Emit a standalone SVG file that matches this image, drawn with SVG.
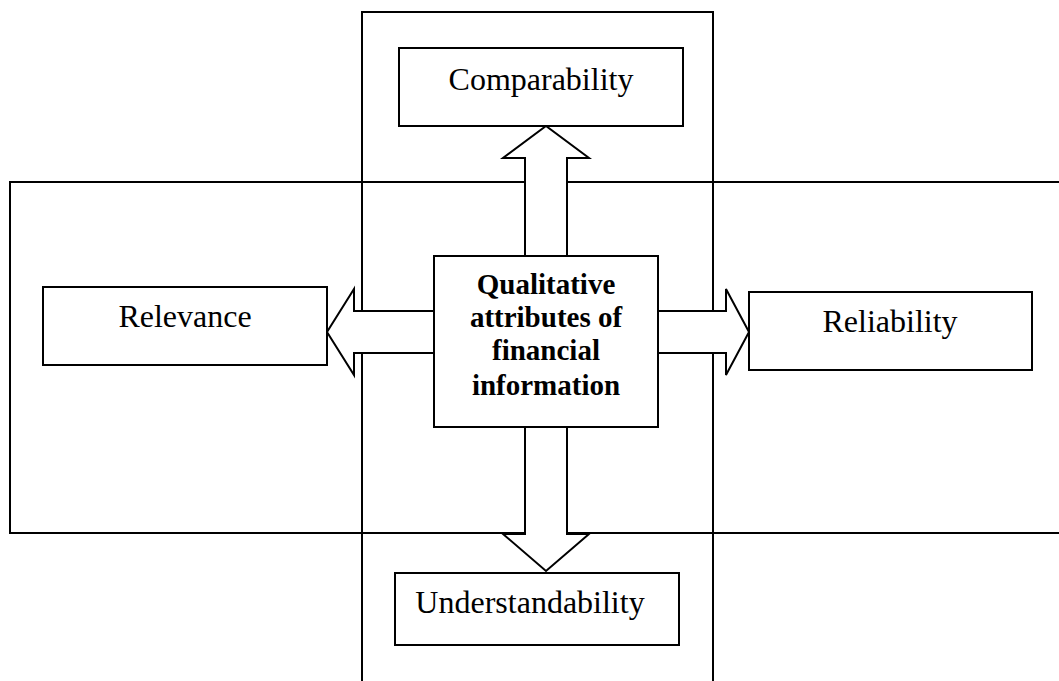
<svg xmlns="http://www.w3.org/2000/svg" width="1059" height="681" viewBox="0 0 1059 681">
  <style>
    .frame { fill: none; stroke: #000; stroke-width: 2; }
    .box { fill: #fff; stroke: #000; stroke-width: 2; }
    .arrow { fill: #fff; stroke: #000; stroke-width: 2; stroke-linejoin: miter; }
    .label { font-family: "Liberation Serif", "Times New Roman", serif; font-size: 32px; fill: #000; text-anchor: middle; }
    .core { font-family: "Liberation Serif", "Times New Roman", serif; font-size: 29px; font-weight: bold; fill: #000; text-anchor: middle; }
  </style>
  <rect width="1059" height="681" fill="#fff"/>

  <!-- background frames: vertical band and horizontal band -->
  <g id="frames">
    <path class="frame" d="M362,690 V12 H713 V690"/>
    <path class="frame" d="M1070,182 H10 V533 H1070"/>
  </g>

  <!-- block arrows from the centre box -->
  <g id="connectors">
    <polygon class="arrow" points="525,256 525,158 503,158 546,126 589,158 567,158 567,256"/>
    <polygon class="arrow" points="525,427 525,534 503,534 546,571 589,534 567,534 567,427"/>
    <polygon class="arrow" points="434,311 354,311 354,289 327,332 354,375 354,353 434,353"/>
    <polygon class="arrow" points="658,311 726,311 726,289 749,332 726,375 726,353 658,353"/>
  </g>

  <g id="centre">
    <rect class="box" x="434" y="256" width="224" height="171"/>
    <text class="core" x="546" y="294">Qualitative</text>
    <text class="core" x="546" y="327">attributes of</text>
    <text class="core" x="546" y="360">financial</text>
    <text class="core" x="546" y="395">information</text>
  </g>

  <g id="comparability">
    <rect class="box" x="399" y="48" width="284" height="78"/>
    <text class="label" x="541" y="90">Comparability</text>
  </g>

  <g id="relevance">
    <rect class="box" x="43" y="287" width="284" height="78"/>
    <text class="label" x="185" y="327">Relevance</text>
  </g>

  <g id="reliability">
    <rect class="box" x="749" y="292" width="283" height="78"/>
    <text class="label" x="890" y="332">Reliability</text>
  </g>

  <g id="understandability">
    <rect class="box" x="395" y="573" width="284" height="72"/>
    <text class="label" x="530" y="613">Understandability</text>
  </g>
</svg>
